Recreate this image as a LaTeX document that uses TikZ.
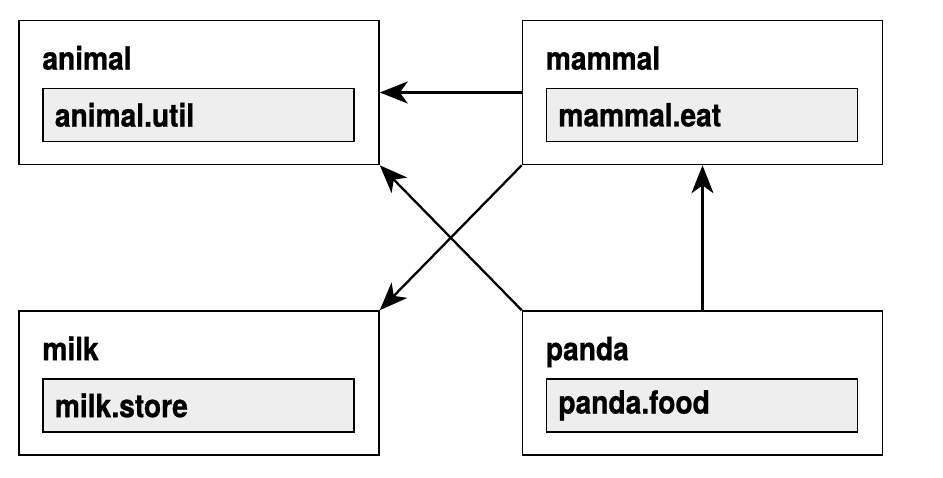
\documentclass[tikz,border=0pt]{standalone}
\usepackage{fontspec}
\setmainfont{TeX Gyre Heros}[FakeStretch=0.88,BoldFeatures={FakeBold=0.8}]
\usetikzlibrary{arrows.meta}

\begin{document}
\begin{tikzpicture}
		[x=1pt,y=1pt,
		%Styles
		package box/.style={draw,line width=1.6pt,minimum width=360pt,minimum height=144pt,inner sep=0pt},
		package title/.style={font=\fontsize{32}{36}\selectfont\bfseries,inner sep=0pt,anchor=base west},
		class box/.style={draw,line width=1.4pt,fill=classgray,anchor=north west,minimum height=53pt,
			text width=287pt,inner xsep=12pt,inner ysep=0pt,align=left,font=\fontsize{32}{36}\selectfont\bfseries},
		depends/.style={line width=2.3pt,line join=round,-{Stealth[length=28pt,width=22pt,inset=8pt]}}
		]
		
		%Colors
		\definecolor{classgray}{HTML}{EEEEEE}	%inner class boxes
		
		\useasboundingbox (0,0) rectangle (943,477);
		
		%The graphic
		\node[package box] (animal) at (199, 384.5) {};
		\node[package box] (mammal) at (702.5, 384.5) {};
		\node[package box] (milk) at (199, 94) {};
		\node[package box] (panda) at (702.5, 94) {};
		
		\node[package title] (animal title) at ([xshift=24pt,yshift=-50pt]animal.north west) {animal};
		\node[package title] (mammal title) at ([xshift=24pt,yshift=-50pt]mammal.north west) {mammal};
		\node[package title] (milk title) at ([xshift=24pt,yshift=-50pt]milk.north west) {milk};
		\node[package title] (panda title) at ([xshift=24pt,yshift=-50pt]panda.north west) {panda};
		
		\node[class box] (animal util) at ([xshift=24pt,yshift=-68pt]animal.north west) {animal.util};
		\node[class box] (mammal eat) at ([xshift=24pt,yshift=-68pt]mammal.north west) {mammal.eat};
		\node[class box] (milk store) at ([xshift=24pt,yshift=-68pt]milk.north west) {milk.store};
		\node[class box] (panda food) at ([xshift=24pt,yshift=-68pt]panda.north west) {panda.food};
		
		\path[depends]
			(mammal)	edge	(animal)
				(mammal.south west)	edge	(milk.north east)
			(panda)	edge	(mammal)
				(panda.north west)	edge	(animal.south east);
	\end{tikzpicture}
\end{document}
